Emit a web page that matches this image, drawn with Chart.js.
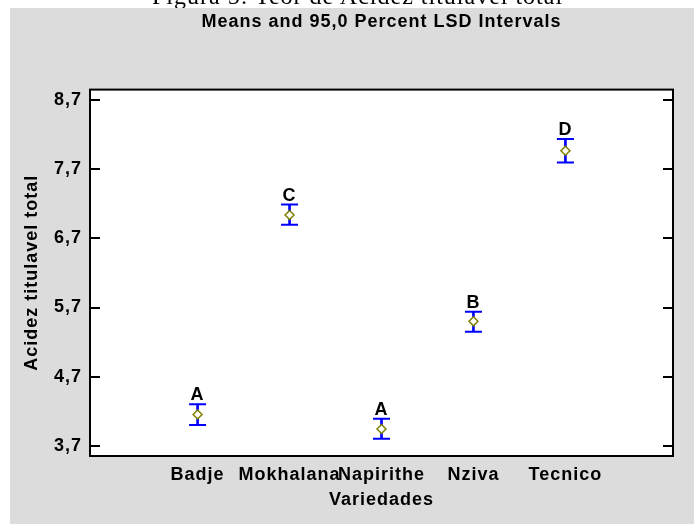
<!DOCTYPE html>
<html>
<head>
<meta charset="utf-8">
<script src="https://cdn.jsdelivr.net/npm/chart.js@4/dist/chart.umd.min.js"></script>
<style>
  html, body { margin: 0; padding: 0; background: #fff; }
  #wrap { position: relative; width: 694px; height: 524px; overflow: hidden; }
  #chart { position: absolute; left: 0; top: 0; }
  #caption { position: absolute; left: 0; top: 0; width: 694px; height: 8px; overflow: hidden; }
  #caption span { position: absolute; left: 152px; top: -16px; font: 24px/24px "Liberation Serif", "Times New Roman", serif; letter-spacing: 1px; white-space: nowrap; color: #000; }
</style>
</head>
<body>
<div id="wrap">
  <canvas id="chart" width="694" height="524"></canvas>
  <div id="caption"><span>Figura 5: Teor de Acidez titulavel total</span></div>
</div>
<script>
'use strict'

// data
const categories = ['Badje', 'Mokhalana', 'Napirithe', 'Nziva', 'Tecnico']
const means = [4.15, 7.04, 3.94, 5.50, 7.97]
const lower = [4.00, 6.90, 3.80, 5.35, 7.80]
const upper = [4.30, 7.19, 4.09, 5.64, 8.14]
const groups = ['A', 'C', 'A', 'B', 'D']
const yTicks = [3.7, 4.7, 5.7, 6.7, 7.7, 8.7]

const FONT = 'Liberation Sans, Arial, sans-serif'
const boldFont = {family: FONT, size: 18, weight: 'bold'}

function fmt (v) {
  return v.toFixed(1).replace('.', ',')
}

// gray panel, white plot area, border, inward ticks, group letters
const frame = {
  id: 'frame',
  beforeUpdate (chart) {
    chart.ctx.letterSpacing = '1px'
  },
  beforeDraw (chart) {
    const ctx = chart.ctx
    const a = chart.chartArea
    ctx.save()
    ctx.fillStyle = '#fff'
    ctx.fillRect(0, 0, chart.width, chart.height)
    ctx.fillStyle = '#dcdcdc'
    ctx.fillRect(10, 8, chart.width - 10, chart.height - 8)
    ctx.fillStyle = '#fff'
    ctx.fillRect(a.left, a.top, a.right - a.left, a.bottom - a.top)
    ctx.restore()
  },
  afterDraw (chart) {
    const ctx = chart.ctx
    const a = chart.chartArea
    const ys = chart.scales.y
    const xs = chart.scales.x
    ctx.save()
    ctx.strokeStyle = '#000'
    ctx.lineWidth = 2
    ctx.strokeRect(a.left, a.top, a.right - a.left, a.bottom - a.top)
    ctx.beginPath()
    yTicks.forEach(v => {
      const y = Math.round(ys.getPixelForValue(v))
      ctx.moveTo(a.left, y)
      ctx.lineTo(a.left + 10, y)
      ctx.moveTo(a.right - 10, y)
      ctx.lineTo(a.right, y)
    })
    ctx.stroke()

    ctx.fillStyle = '#000'
    ctx.font = 'bold 18px ' + FONT
    ctx.textAlign = 'center'
    ctx.textBaseline = 'alphabetic'
    groups.forEach((g, i) => {
      ctx.fillText(g, xs.getPixelForValue(i), ys.getPixelForValue(upper[i]) - 4)
    })
    ctx.restore()
  }
}

const meanPoints = categories.map((c, i) => ({x: i, y: means[i]}))
const capPoints = categories.map((c, i) => ({x: i, y: lower[i]}))
  .concat(categories.map((c, i) => ({x: i, y: upper[i]})))
const stems = categories.map((c, i) => ({x: i, y: [lower[i], upper[i]]}))

new Chart(document.getElementById('chart'), {
  type: 'scatter',
  data: {
    datasets: [
      {
        data: meanPoints,
        pointStyle: 'rectRot',
        radius: 4.5,
        backgroundColor: '#fff',
        borderColor: '#808000',
        borderWidth: 1.5,
        order: 0
      },
      {
        data: capPoints,
        pointStyle: 'line',
        radius: 8.5,
        borderColor: '#0000ff',
        borderWidth: 2,
        order: 1
      },
      {
        type: 'bar',
        data: stems,
        backgroundColor: '#0000ff',
        borderWidth: 0,
        barThickness: 2,
        order: 2
      }
    ]
  },
  options: {
    responsive: false,
    animation: false,
    events: [],
    layout: {padding: {left: 10, right: 21, top: 0, bottom: 13}},
    plugins: {
      legend: {display: false},
      tooltip: {enabled: false},
      title: {
        display: true,
        fullSize: false,
        text: 'Means and 95,0 Percent LSD Intervals',
        color: '#000',
        font: boldFont,
        padding: {top: 11, bottom: 57}
      }
    },
    scales: {
      x: {
        type: 'linear',
        min: -1.17,
        max: 5.17,
        offset: false,
        grid: {display: false, drawTicks: false, offset: false},
        border: {display: false},
        afterBuildTicks: s => { s.ticks = categories.map((c, i) => ({value: i})) },
        afterFit: s => { s.height = 55 },
        ticks: {
          callback: v => categories[v],
          color: '#000',
          font: boldFont,
          padding: 8,
          autoSkip: false,
          maxRotation: 0,
          minRotation: 0
        },
        title: {
          display: true,
          text: 'Variedades',
          color: '#000',
          font: boldFont,
          padding: {top: 4, bottom: 0}
        }
      },
      y: {
        min: 3.55,
        max: 8.855,
        beginAtZero: false,
        grid: {display: false, drawTicks: false},
        border: {display: false},
        afterBuildTicks: s => { s.ticks = yTicks.map(v => ({value: v})) },
        afterFit: s => { s.width = 80 },
        ticks: {
          callback: v => fmt(v),
          color: '#000',
          font: boldFont,
          padding: 8
        },
        title: {
          display: true,
          text: 'Acidez titulavel total',
          color: '#000',
          font: boldFont,
          padding: {top: 11, bottom: 0}
        }
      }
    }
  },
  plugins: [frame]
})
</script>
</body>
</html>
